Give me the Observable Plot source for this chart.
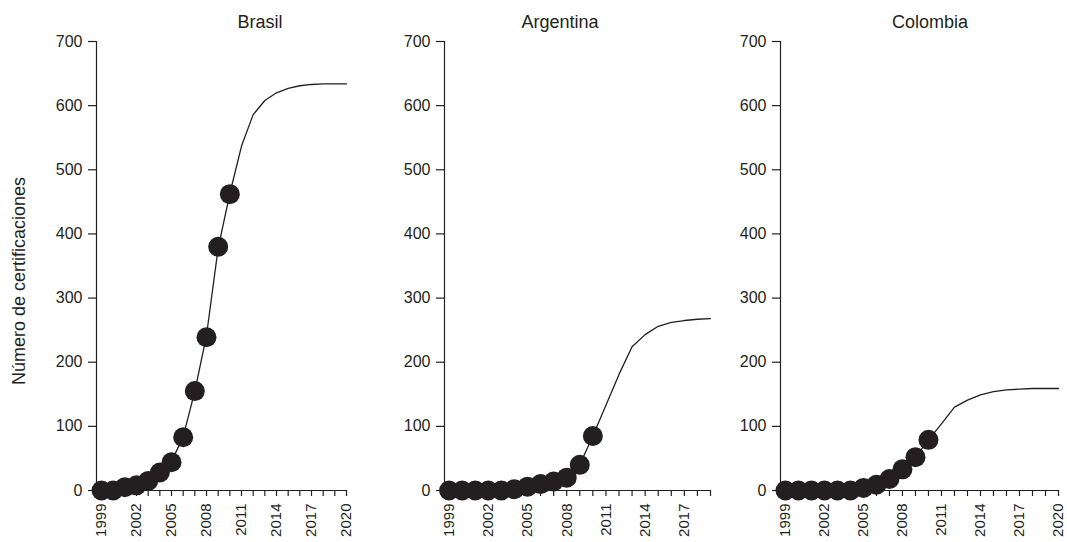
<!DOCTYPE html>
<html>
<head>
<meta charset="utf-8">
<script src="https://cdn.jsdelivr.net/npm/d3@7"></script>
<script src="https://cdn.jsdelivr.net/npm/@observablehq/plot@0.6"></script>
<style>
  html, body { margin: 0; padding: 0; background: #ffffff; }
  #wrap { position: relative; width: 1067px; height: 542px; overflow: hidden; font-family: "Liberation Sans", Arial, Helvetica, sans-serif; color: #231f20; }
  #wrap svg { position: absolute; left: 0; top: 0; }
  .title { position: absolute; top: 13px; font-size: 18px; line-height: 18px; white-space: nowrap; transform: translateX(-50%); }
  .ylab { position: absolute; left: 19px; top: 281px; font-size: 18px; line-height: 18px; white-space: nowrap; transform: translate(-50%, -50%) rotate(-90deg); }
</style>
</head>
<body>
<div id="wrap"></div>
<script>
// ---- data ----
const countries = ["Brasil", "Argentina", "Colombia"];
const yLabel = "Número de certificaciones";
const yTicks = [0, 100, 200, 300, 400, 500, 600, 700];
const xLabelYears = [1999, 2002, 2005, 2008, 2011, 2014, 2017, 2020];

const obsYears = [1999, 2000, 2001, 2002, 2003, 2004, 2005, 2006, 2007, 2008, 2009, 2010];
const brasilObs    = [0, 0, 5, 8, 15, 28, 44, 83, 155, 239, 380, 462];
const argentinaObs = [0, 0, 0, 0, 0, 2, 6, 10, 14, 20, 40, 85];
const colombiaObs  = [0, 0, 0, 0, 0, 0, 4, 9, 18, 33, 52, 79];

const fitYears = [1999, 2000, 2001, 2002, 2003, 2004, 2005, 2006, 2007, 2008, 2009, 2010,
                  2011, 2012, 2013, 2014, 2015, 2016, 2017, 2018, 2019, 2020];
const brasilFit    = [0, 1, 4, 8, 14, 27, 45, 84, 155, 242, 378, 463, 537, 586, 608, 620, 627, 631, 633, 634, 634, 634];
const argentinaFit = [0, 0, 0, 0, 1, 2, 5, 9, 14, 21, 40, 85, 133, 181, 224, 243, 256, 262, 265, 267, 268];
const colombiaFit  = [0, 0, 0, 0, 0, 1, 3, 8, 17, 32, 52, 79, 104, 130, 141, 149, 154, 157, 158, 159, 159, 159];

// ---- layout ----
const W = 1067, H = 542;
const ink = "#231f20";
const panels = [
  {name: countries[0], obs: brasilObs,    fit: brasilFit,    x0: 96,  x1: 346,  d0: 1998.57, d1: 2020, tx: 260},
  {name: countries[1], obs: argentinaObs, fit: argentinaFit, x0: 444, x1: 710,  d0: 1998.65, d1: 2019, tx: 560},
  {name: countries[2], obs: colombiaObs,  fit: colombiaFit,  x0: 780, x1: 1058, d0: 1998.62, d1: 2020, tx: 930}
];

const wrap = document.getElementById("wrap");

for (const p of panels) {
  const obsData = obsYears.map((year, i) => ({year, value: p.obs[i]}));
  const fitData = p.fit.map((value, i) => ({year: fitYears[i], value}));
  const tickYears = fitYears.filter(y => y >= 1999 && y <= p.d1);
  const labYears = xLabelYears.filter(y => y <= p.d1);

  const chart = Plot.plot({
    width: W,
    height: H,
    marginLeft: p.x0,
    marginRight: W - p.x1,
    marginTop: 41,
    marginBottom: 52,
    x: {domain: [p.d0, p.d1]},
    y: {domain: [0, 700]},
    style: {background: "transparent", overflow: "visible", fontFamily: "'Liberation Sans', Arial, Helvetica, sans-serif", color: ink},
    marks: [
      Plot.ruleY([0], {stroke: ink, strokeWidth: 1.2}),
      Plot.ruleX([p.d0], {stroke: ink, strokeWidth: 1.2}),
      Plot.axisY({ticks: yTicks, tickSize: 8, tickPadding: 6, fontSize: 16, label: null, strokeWidth: 1.2}),
      Plot.axisX({ticks: tickYears, tickSize: 6, tickFormat: () => "", label: null, strokeWidth: 1.2}),
      Plot.axisX({ticks: labYears, tickSize: 0, tickPadding: 13, tickRotate: -90, tickFormat: d => String(d), fontSize: 15, label: null}),
      Plot.line(fitData, {x: "year", y: "value", stroke: ink, strokeWidth: 1.3}),
      Plot.dot(obsData, {x: "year", y: "value", r: 10, fill: ink})
    ]
  });
  wrap.appendChild(chart);

  const t = document.createElement("div");
  t.className = "title";
  t.style.left = p.tx + "px";
  t.textContent = p.name;
  wrap.appendChild(t);
}

const yl = document.createElement("div");
yl.className = "ylab";
yl.textContent = yLabel;
wrap.appendChild(yl);
</script>
</body>
</html>
